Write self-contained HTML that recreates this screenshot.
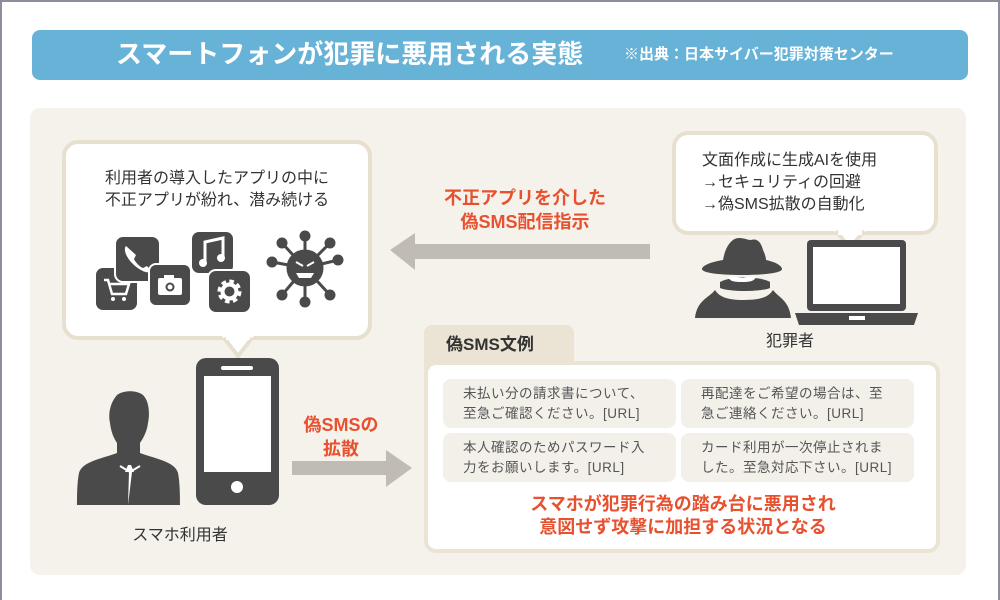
<!DOCTYPE html>
<html><head><meta charset="utf-8"><style>
*{margin:0;padding:0;box-sizing:border-box}
body{width:1000px;height:600px;background:#fff;position:relative;overflow:hidden;font-family:"Liberation Sans","Noto Sans CJK JP",sans-serif;color:#333}
.a{position:absolute}
.frame{left:0;top:0;width:1000px;height:600px;border:2px solid #8e8e9a;border-bottom-width:0}
.title{left:32px;top:30px;width:936px;height:50px;background:#67b3d8;border-radius:8px;color:#fff}
.panel{left:30px;top:108px;width:936px;height:467px;background:#f5f2ec;border-radius:10px}
.bub{background:#fff;border:4px solid #e8e0cf;border-radius:16px}
.red{color:#e8512f;font-weight:bold;font-size:18px;line-height:24px;text-align:center}
.card{background:#f3f0ea;border-radius:8px;font-size:13.5px;line-height:20px;color:#555;padding:5px 0 0 20px;letter-spacing:0.5px}
</style></head><body>
<div class="a frame"></div>
<div class="a title">
 <div class="a" style="left:84px;top:8px;font-size:26px;font-weight:bold;line-height:32px;letter-spacing:0">スマートフォンが犯罪に悪用される実態</div>
 <div class="a" style="left:592px;top:15px;font-size:15px;font-weight:bold;line-height:20px">※出典：日本サイバー犯罪対策センター</div>
</div>
<div class="a panel"></div>

<!-- left bubble -->
<div class="a bub" style="left:62px;top:140px;width:310px;height:200px"></div>
<svg class="a" style="left:220px;top:334px" width="36" height="26"><polygon points="2,2 34,2 18,22" fill="#fff"/><polyline points="4,4 18,22 32,4" fill="none" stroke="#e8e0cf" stroke-width="4"/><rect x="6" y="0" width="24" height="6" fill="#fff"/></svg>
<div class="a" style="left:66px;top:168px;width:302px;text-align:center;font-size:16px;line-height:22px">利用者の導入したアプリの中に<br>不正アプリが紛れ、潜み続ける</div>
<svg class="a" style="left:90px;top:228px" width="260" height="90" viewBox="90 228 260 90">
 <rect x="96" y="268" width="41" height="42" rx="7" fill="#4a4a4a"/>
 <path d="M104 280h4l4 14h14l3-10h-19" fill="none" stroke="#fff" stroke-width="2.5"/><circle cx="113" cy="299" r="2" fill="#fff"/><circle cx="124" cy="299" r="2" fill="#fff"/>
 <rect x="115" y="236" width="45" height="46" rx="8" fill="#4a4a4a" stroke="#fff" stroke-width="2"/>
 <path d="M126 246c-3 3 0 12 8 19s15 9 17 6l-4-5-4 2c-3-1-8-6-9-9l2-4z" fill="#fff"/>
 <rect x="149" y="264" width="42" height="42" rx="7" fill="#4a4a4a" stroke="#fff" stroke-width="2"/>
 <rect x="158" y="278" width="24" height="17" rx="2" fill="#fff"/><rect x="164" y="275" width="10" height="4" fill="#fff"/><circle cx="170" cy="287" r="4.5" fill="#4a4a4a"/><circle cx="170" cy="287" r="2.5" fill="#fff"/>
 <rect x="192" y="232" width="41" height="41" rx="7" fill="#4a4a4a"/>
 <path d="M205 262v-20l18-4v18" fill="none" stroke="#fff" stroke-width="3"/><circle cx="203" cy="263" r="4" fill="#fff"/><circle cx="221" cy="258" r="4" fill="#fff"/>
 <rect x="208" y="270" width="43" height="43" rx="8" fill="#4a4a4a" stroke="#fff" stroke-width="2"/>
 <circle cx="229.5" cy="291.5" r="9" fill="none" stroke="#fff" stroke-width="6" stroke-dasharray="4 3"/><circle cx="229.5" cy="291.5" r="7" fill="none" stroke="#fff" stroke-width="4"/>
 <g stroke="#4a4a4a" stroke-width="3" fill="#4a4a4a">
  <line x1="305" y1="268" x2="305" y2="236"/><line x1="305" y1="268" x2="305" y2="302"/><line x1="305" y1="268" x2="272" y2="262"/><line x1="305" y1="268" x2="338" y2="260"/>
  <line x1="305" y1="268" x2="282" y2="243"/><line x1="305" y1="268" x2="330" y2="243"/><line x1="305" y1="268" x2="282" y2="295"/><line x1="305" y1="268" x2="330" y2="295"/>
  <circle cx="305" cy="236" r="4"/><circle cx="305" cy="302" r="4"/><circle cx="272" cy="262" r="4"/><circle cx="338" cy="260" r="4"/><circle cx="282" cy="243" r="4"/><circle cx="330" cy="243" r="4"/><circle cx="282" cy="295" r="4"/><circle cx="330" cy="295" r="4"/>
  <circle cx="305" cy="268" r="17"/>
 </g>
 <path d="M296 262l7 4M314 262l-7 4" stroke="#fff" stroke-width="2"/><path d="M296 273h18l-3 5h-12z" fill="#fff"/>
</svg>

<!-- left arrow -->
<svg class="a" style="left:388px;top:230px" width="265" height="44"><polygon points="2,20 27,3 27,14 262,14 262,29 27,29 27,40" fill="#c0bbb5"/></svg>
<div class="a red" style="left:430px;top:186px;width:190px">不正アプリを介した<br>偽SMS配信指示</div>

<!-- right bubble -->
<div class="a bub" style="left:672px;top:131px;width:266px;height:104px"></div>
<svg class="a" style="left:832px;top:229px" width="36" height="22"><polygon points="2,2 34,2 18,20" fill="#fff"/><polyline points="4,2 18,19 32,2" fill="none" stroke="#e8e0cf" stroke-width="4"/><rect x="6" y="0" width="24" height="6" fill="#fff"/></svg>
<div class="a" style="left:702px;top:150px;font-size:16px;line-height:22px">文面作成に生成AIを使用<br>→セキュリティの回避<br>→偽SMS拡散の自動化</div>

<!-- criminal -->
<svg class="a" style="left:690px;top:228px" width="235" height="100" viewBox="690 228 235 100">
 <path d="M723 260c2-12 8-22 16-22 6 0 8 2 12 2 6-2 10 2 12 10 2 4 3 8 3 10 10 2 16 6 16 9 0 4-18 6-40 6s-40-2-40-6c0-3 8-7 21-9z" fill="#4a4a4a"/>
 <path d="M720 282c10-6 40-6 50 0v6c-10 4-40 4-50 0z" fill="#4a4a4a"/>
 <path d="M728 277c6-2 9 1 14 1 5 0 9-3 14-1-2 4-5 5-14 5-9 0-12-1-14-5z" fill="#fff"/>
 <path d="M715 290c4 6 10 10 29 10s25-4 29-10c6 8 16 10 18 28h-96c2-18 14-20 20-28z" fill="#4a4a4a"/>
 <rect x="807" y="240" width="99" height="71" rx="4" fill="#4a4a4a"/>
 <rect x="813" y="247" width="87" height="57" fill="#fff"/>
 <path d="M795 313h123l-4 12h-115z" fill="#4a4a4a"/><rect x="849" y="316" width="16" height="4" fill="#fff"/>
</svg>
<div class="a" style="left:760px;top:331px;width:60px;text-align:center;font-size:16px;line-height:22px">犯罪者</div>

<!-- user and phone -->
<svg class="a" style="left:70px;top:355px" width="215" height="160" viewBox="70 355 215 160">
 <path d="M117 395c6-5 20-5 26 0 6 6 7 18 5 28-1 8-4 14-8 20v10c12 5 35 8 38 20 2 10 2 25 2 32h-103c0-7 0-22 2-32 3-12 26-15 38-20v-10c-4-6-6-12-7-20-2-9 0-20 7-28z" fill="#4a4a4a"/>
 <path d="M130 472h-5l3-7h3l3 7h-5l-1 33 4-33" fill="#fff"/>
 <path d="M120 466l10 6 10-6" stroke="#fff" stroke-width="2" fill="none"/>
 <rect x="196" y="358" width="83" height="147" rx="10" fill="#4a4a4a"/>
 <rect x="204" y="376" width="67" height="96" fill="#fff"/>
 <rect x="221" y="366" width="32" height="4" rx="2" fill="#fff"/>
 <circle cx="237" cy="487" r="6" fill="#fff"/>
</svg>
<div class="a" style="left:120px;top:525px;width:120px;text-align:center;font-size:16px;line-height:22px">スマホ利用者</div>

<!-- right arrow -->
<div class="a red" style="left:296px;top:413px;width:90px">偽SMSの<br>拡散</div>
<svg class="a" style="left:290px;top:448px" width="125" height="42"><polygon points="2,13 96,13 96,2 122,20 96,39 96,27 2,27" fill="#c0bbb5"/></svg>

<!-- SMS box -->
<div class="a" style="left:424px;top:325px;width:150px;height:44px;background:#ebe3d3;border-radius:8px 8px 0 0"></div>
<div class="a" style="left:446px;top:333px;font-size:17px;font-weight:bold;line-height:24px;color:#333">偽SMS文例</div>
<div class="a" style="left:424px;top:361px;width:516px;height:192px;background:#fff;border:4px solid #ebe3d3;border-radius:12px"></div>
<div class="a card" style="left:443px;top:379px;width:233px;height:49px">未払い分の請求書について、<br>至急ご確認ください。[URL]</div>
<div class="a card" style="left:681px;top:379px;width:233px;height:49px">再配達をご希望の場合は、至<br>急ご連絡ください。[URL]</div>
<div class="a card" style="left:443px;top:433px;width:233px;height:49px">本人確認のためパスワード入<br>力をお願いします。[URL]</div>
<div class="a card" style="left:681px;top:433px;width:233px;height:49px">カード利用が一次停止されま<br>した。至急対応下さい。[URL]</div>
<div class="a red" style="left:430px;top:493px;width:506px;line-height:23px">スマホが犯罪行為の踏み台に悪用され<br>意図せず攻撃に加担する状況となる</div>
</body></html>
